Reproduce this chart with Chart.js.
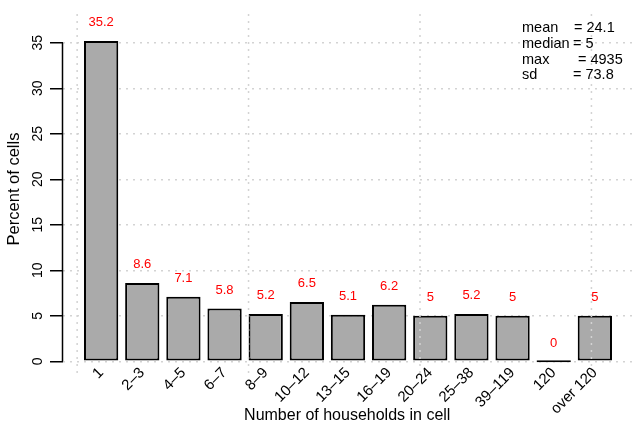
<!DOCTYPE html>
<html>
<head>
<meta charset="utf-8">
<script src="https://cdn.jsdelivr.net/npm/chart.js@4/dist/chart.umd.min.js"></script>
<style>
    body { margin: 0; background: #fff; }
    canvas { display: block; }
</style>
</head>
<body>
<canvas id="CHART_Households" width="632" height="426"></canvas>
<script>
const categories = ['1', '2–3', '4–5', '6–7', '8–9', '10–12', '13–15', '16–19', '20–24', '25–38', '39–119', '120', 'over 120'];
const percentValues = [35.2, 8.6, 7.1, 5.8, 5.2, 6.5, 5.1, 6.2, 5, 5.2, 5, 0, 5];
const yTicks = [0, 5, 10, 15, 20, 25, 30, 35];
// vertical grid lines sit on R's pretty x ticks, expressed in bar-index units
const xGridAt = [-0.583, 3.583, 7.75, 11.917];
const statNames = ['mean', 'median', 'max', 'sd'];
const statValues = ['= 24.1', '= 5', '= 4935', '= 73.8'];

const FONT = "'Liberation Sans', Arial, sans-serif";
const GRID_COLOR = '#D3D3D3';
const GRID_DASH = [2, 5];
// R's plot region runs a little below the chart area (yaxs = "r")
const Y_PLOT_MIN = -1.47;
const Y_PLOT_MAX = 38.16;

Chart.defaults.font.family = FONT;
Chart.defaults.color = '#000';

let barData = [];
for (let i = 0; i < categories.length; i++) {
    barData.push({ x: i, y: percentValues[i] });
}

const extrasPlugin = {
    id: 'extras',
    afterDatasetsDraw(chart) {
        let ctx = chart.ctx;
        let x = chart.scales.x;
        let y = chart.scales.y;

        // dotted vertical grid, drawn over the bars like grid() in R
        ctx.save();
        ctx.strokeStyle = GRID_COLOR;
        ctx.lineWidth = 1.5;
        ctx.setLineDash(GRID_DASH);
        for (let i = 0; i < xGridAt.length; i++) {
            let px = x.getPixelForValue(xGridAt[i]);
            ctx.beginPath();
            ctx.moveTo(px, y.getPixelForValue(Y_PLOT_MAX));
            ctx.lineTo(px, y.getPixelForValue(Y_PLOT_MIN));
            ctx.stroke();
        }
        ctx.restore();

        // red value labels above each bar
        ctx.save();
        ctx.fillStyle = '#FF0000';
        ctx.font = `13px ${FONT}`;
        ctx.textAlign = 'center';
        ctx.textBaseline = 'middle';
        for (let i = 0; i < percentValues.length; i++) {
            ctx.fillText(`${percentValues[i]}`, x.getPixelForValue(i), y.getPixelForValue(percentValues[i] + 2));
        }
        ctx.restore();
    },
    afterDraw(chart) {
        let ctx = chart.ctx;
        let area = chart.chartArea;
        let y = chart.scales.y;

        // y axis line only spans the tick range
        ctx.save();
        ctx.strokeStyle = '#000';
        ctx.lineWidth = 1.5;
        ctx.beginPath();
        ctx.moveTo(area.left, y.getPixelForValue(yTicks[0]));
        ctx.lineTo(area.left, y.getPixelForValue(yTicks[yTicks.length - 1]));
        ctx.stroke();

        // summary stats, top right
        ctx.fillStyle = '#000';
        ctx.font = `14.5px ${FONT}`;
        ctx.textBaseline = 'alphabetic';
        ctx.textAlign = 'left';
        let valueX = [574, 573, 578, 573];
        for (let i = 0; i < statNames.length; i++) {
            let baseY = 31.7 + i * 15.9;
            ctx.fillText(statNames[i], 522, baseY);
            ctx.fillText(statValues[i], valueX[i], baseY);
        }
        ctx.restore();
    }
};

let chart = new Chart(document.getElementById('CHART_Households').getContext('2d'), {
    type: 'bar',
    data: {
        datasets: [{
            data: barData,
            backgroundColor: '#AAAAAA',
            borderColor: '#000',
            borderWidth: 2,
            borderSkipped: false,
            minBarLength: 2,
            barPercentage: 1 / 1.2,
            categoryPercentage: 1
        }]
    },
    options: {
        responsive: false,
        animation: false,
        devicePixelRatio: 1,
        layout: { padding: { top: 14, right: 0, bottom: 0, left: 0 } },
        plugins: {
            legend: { display: false },
            tooltip: { enabled: false }
        },
        scales: {
            x: {
                type: 'linear',
                offset: false,
                min: -0.939,
                max: 12.903,
                grid: { display: false, drawTicks: false, offset: false },
                border: { display: false },
                afterBuildTicks: (scale) => {
                    scale.ticks = categories.map((c, i) => ({ value: i }));
                },
                ticks: {
                    autoSkip: false,
                    minRotation: 45,
                    maxRotation: 45,
                    padding: 0,
                    font: { size: 15 },
                    callback: (value) => categories[value]
                },
                title: {
                    display: true,
                    text: 'Number of households in cell',
                    font: { size: 16 },
                    padding: { top: 0, bottom: 1 }
                },
                afterFit: (scale) => { scale.height = 62; }
            },
            y: {
                min: -0.30,
                max: Y_PLOT_MAX,
                z: 1,
                afterBuildTicks: (scale) => {
                    scale.ticks = yTicks.map(v => ({ value: v }));
                },
                grid: {
                    color: GRID_COLOR,
                    lineWidth: 1.5,
                    tickColor: '#000',
                    tickWidth: 1.5,
                    tickLength: 12.5,
                    tickBorderDash: []
                },
                border: { display: false, dash: GRID_DASH },
                ticks: {
                    autoSkip: false,
                    minRotation: 90,
                    maxRotation: 90,
                    crossAlign: 'center',
                    padding: 4,
                    font: { size: 14 }
                },
                title: {
                    display: true,
                    text: 'Percent of cells',
                    font: { size: 16.5 },
                    padding: { top: 5, bottom: 0 }
                },
                afterFit: (scale) => { scale.width = 62.5; }
            }
        }
    },
    plugins: [extrasPlugin]
});
</script>
</body>
</html>
